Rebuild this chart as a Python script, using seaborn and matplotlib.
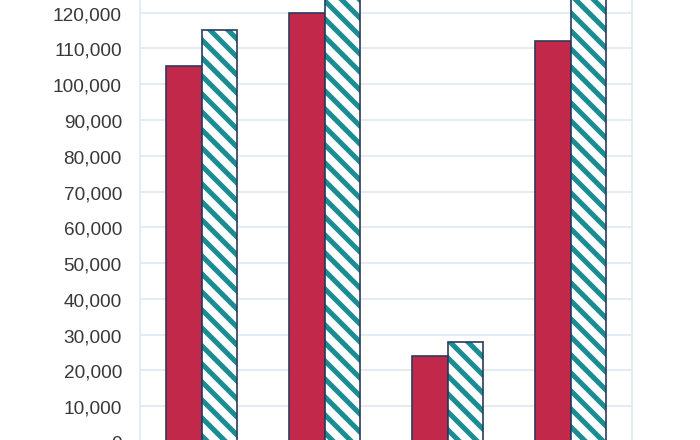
import matplotlib
matplotlib.use("Agg")
import matplotlib.pyplot as plt
import seaborn as sns
import pandas as pd
from matplotlib.patches import Rectangle
from matplotlib.ticker import FuncFormatter, MultipleLocator

categories = ["A", "B", "C", "D"]
series_names = ["Series 1", "Series 2"]
series1 = [105000, 120000, 24000, 112000]
series2 = [115000, 130000, 28000, 128000]

df = pd.DataFrame({
    "category": categories * 2,
    "series": [series_names[0]] * 4 + [series_names[1]] * 4,
    "value": series1 + series2,
})

# hatch pitch follows dpi; 108 dpi gives stripes close to the reference
DPI = 108
k = 100 / DPI  # keeps sizes as they would be at 100 dpi

sns.set_style("white")
plt.rcParams["font.family"] = ["Liberation Sans", "DejaVu Sans"]
plt.rcParams["hatch.linewidth"] = 3.4

teal = "#1b8c91"
navy = "#2b3b5c"

fig = plt.figure(figsize=(700 / DPI, 441 / DPI), dpi=DPI)
# axes runs past the figure edges: only part of the chart is visible
ax = fig.add_axes([140 / 700, -2 / 441, 492 / 700, 501 / 441])

sns.barplot(data=df, x="category", y="value", hue="series",
            palette=["#c1284a", "white"], width=0.585,
            edgecolor=navy, linewidth=1.2 * k, saturation=1,
            legend=False, ax=ax)

# hatch takes the edge colour, so draw stripes in teal and a navy outline on top
for bar in ax.containers[1]:
    bar.set_hatch("\\\\")
    bar.set_edgecolor(teal)
    bar.set_linewidth(0)
    ax.add_patch(Rectangle(bar.get_xy(), bar.get_width(), bar.get_height(),
                           fill=False, edgecolor=navy, linewidth=1.2 * k,
                           zorder=bar.get_zorder() + 0.1))

ax.set_xlim(-0.5, 3.5)
ax.set_ylim(0, 140000)
ax.yaxis.set_major_locator(MultipleLocator(10000))
ax.yaxis.set_major_formatter(FuncFormatter(lambda v, p: f"{int(v):,}"))
ax.grid(axis="y", color="#dfe7f1", linewidth=1.2 * k)
ax.set_axisbelow(True)
for side in ["top", "bottom"]:
    ax.spines[side].set_visible(False)
for side in ["left", "right"]:
    ax.spines[side].set_color("#dfe7f1")
    ax.spines[side].set_linewidth(1.2 * k)
ax.set_xlabel("")
ax.set_ylabel("")
ax.set_xticks([])
ax.tick_params(axis="y", length=0, pad=13 * k, labelsize=13.7 * k, labelcolor="#383838")

fig.savefig("out.png", dpi=DPI)
